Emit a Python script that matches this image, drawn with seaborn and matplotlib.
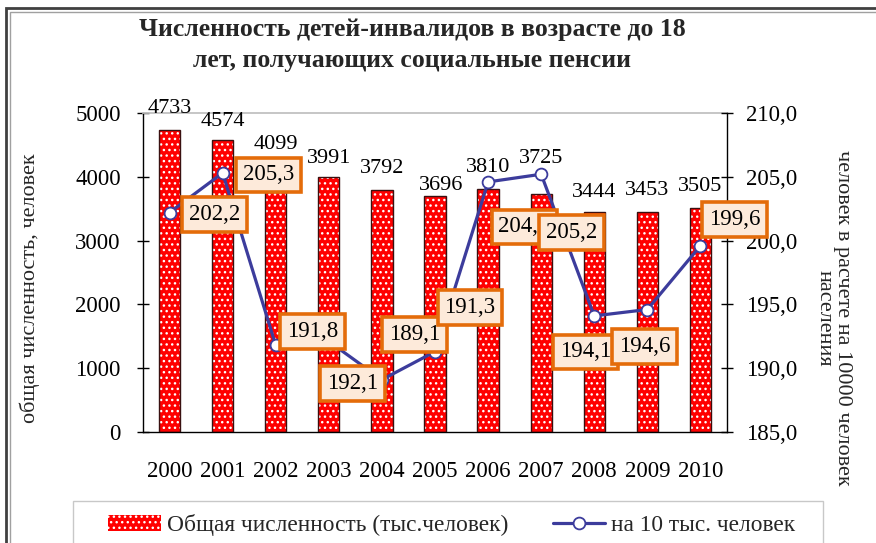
import matplotlib
matplotlib.use("Agg")
import matplotlib.pyplot as plt
import matplotlib.patches as mpatches
from matplotlib.lines import Line2D
from matplotlib.ticker import FixedLocator, FuncFormatter
import seaborn as sns
import numpy as np
import pandas as pd

# ---- data ----
years = ["2000", "2001", "2002", "2003", "2004", "2005", "2006", "2007", "2008", "2009", "2010"]
totals = [4733, 4574, 4099, 3991, 3792, 3696, 3810, 3725, 3444, 3453, 3505]
per10k = [202.2, 205.3, 191.8, 192.1, 189.1, 191.3, 204.6, 205.2, 194.1, 194.6, 199.6]

title = "Численность детей-инвалидов в возрасте до 18\nлет, получающих социальные пенсии"
bar_label = "Общая численность (тыс.человек)"
line_label = "на 10 тыс. человек"
left_ylabel = "общая численность, человек"
right_ylabel = "человек в расчете на 10000 человек\nнаселения"

# label placement offsets (pixels) -- layout only
bar_lbl_dy = [22, 19, 26, 19, 22, 11, 21, 36, 20, 21, 22]
bar_lbl_dx = [0, 0, 0, 0, 0, 6, 0, 0, 0, 0, 0]
box_dx = [45, 46, 37, 24, 33, 35, 36, 30, -9, -3, 34]
box_dy = [-2, -2, 14, -42, 45, 44, -45, -58, -36, -37, 26]

df = pd.DataFrame({"year": years, "total": totals, "rate": per10k})

sns.set_theme(style="white")
plt.rcParams["font.family"] = ["Liberation Serif", "DejaVu Serif"]
plt.rcParams["hatch.linewidth"] = 1.0

W, H = 876, 543
fig = plt.figure(figsize=(W / 100, H / 100), dpi=100)
fig.patch.set_facecolor("white")
ax = fig.add_axes([143 / W, 1 - 432 / H, 584 / W, 319 / H])

RED = "#FF0000"
BLUE = "#3C3C9C"
FS = 16.5

# bars: red with white dot pattern, then dark outline
sns.barplot(data=df, x="year", y="total", ax=ax, color=RED, saturation=1,
            width=0.4, edgecolor="white", linewidth=0, hatch="...", zorder=2)
sns.barplot(data=df, x="year", y="total", ax=ax, fill=False, width=0.4,
            edgecolor="#3a1010", linewidth=1.0, zorder=3)

ax.set_xlim(-0.5, len(years) - 0.5)
ax.set_ylim(0, 5000)
ax.yaxis.set_major_locator(FixedLocator(np.arange(0, 5001, 1000)))
ax.set_xlabel("")
ax.set_ylabel(left_ylabel, fontsize=16)
ax.yaxis.set_label_coords(-0.176, 0.451)

# bar value labels
for i, v in enumerate(df["total"]):
    ax.annotate(f"{v}", xy=(i, v), xytext=(bar_lbl_dx[i] * 0.72, bar_lbl_dy[i] * 0.72),
                textcoords="offset points", ha="center", va="center",
                fontsize=16, color="black", zorder=4)

# x ticks between categories
ax.tick_params(axis="x", which="major", length=0, pad=21, labelsize=FS, colors="black")
ax.xaxis.set_minor_locator(FixedLocator(np.arange(-0.5, len(years), 1.0)))
ax.tick_params(axis="x", which="minor", direction="inout", length=8, width=1, color="black")
ax.tick_params(axis="y", direction="inout", length=8, width=1, pad=12, labelsize=FS,
               color="black", labelcolor="black", left=True)

for s in ["left", "bottom"]:
    ax.spines[s].set_color("black")
    ax.spines[s].set_linewidth(1)
ax.spines["top"].set_color("#BFBFBF")
ax.spines["right"].set_visible(False)

# line on secondary axis
ax2 = ax.twinx()
xs = np.arange(len(years))
sns.lineplot(x=xs, y=df["rate"].to_numpy(), ax=ax2, color=BLUE, linewidth=2.3,
             marker="o", markersize=8.5, markerfacecolor="white",
             markeredgecolor=BLUE, markeredgewidth=1.3, zorder=5)
ax2.set_ylim(185, 210)
ax2.yaxis.set_major_locator(FixedLocator(np.arange(185, 210.1, 5)))
ax2.yaxis.set_major_formatter(FuncFormatter(lambda v, p: f"{v:.1f}".replace(".", ",")))
ax2.tick_params(axis="y", direction="inout", length=8, width=1, pad=10, labelsize=FS,
                color="black", labelcolor="black", right=True)
for s in ["left", "bottom", "top"]:
    ax2.spines[s].set_visible(False)
ax2.spines["right"].set_color("black")
ax2.spines["right"].set_linewidth(1)
ax2.set_ylabel(right_ylabel, fontsize=16, rotation=270, multialignment="center",
               linespacing=0.95, va="center", ha="center")
ax2.yaxis.set_label_coords(1.1815, 0.357)

# boxed rate labels
for i, v in enumerate(df["rate"]):
    ax2.annotate(f"{v:.1f}".replace(".", ","), xy=(i, v),
                 xytext=(box_dx[i] * 0.72, box_dy[i] * 0.72), textcoords="offset points",
                 ha="center", va="center", fontsize=16.5, color="black", zorder=6,
                 bbox=dict(boxstyle="square,pad=0.3", facecolor="#FDEADA",
                           edgecolor="#E46C0A", linewidth=2.6))

# title
fig.text(412 / W, 1 - 45 / H, title, ha="center", va="center", fontsize=18.5,
         fontweight="bold", linespacing=1.45)

# legend frame and legend
fig.patches.append(mpatches.Rectangle((73 / W, -0.05), (823 - 73) / W, 0.05 + (1 - 501 / H),
                                      transform=fig.transFigure, fill=False,
                                      edgecolor="#C8C8C8", linewidth=1))
h_bar = mpatches.Patch(facecolor=RED, edgecolor="white", hatch="...", linewidth=0)
h_line = Line2D([0], [0], color=BLUE, linewidth=2.3, marker="o", markersize=8.5,
                markerfacecolor="white", markeredgecolor=BLUE, markeredgewidth=1.3)
leg = fig.legend([h_bar, h_line], [bar_label, line_label], loc="center left",
                 bbox_to_anchor=(108 / W, 1 - 525 / H), ncol=2, frameon=False,
                 handlelength=2.27, handletextpad=0.25, columnspacing=1.9,
                 borderpad=0, borderaxespad=0, fontsize=16.8)

# outer double frame
fig.patches.append(mpatches.Rectangle((6 / W, -0.1), 1.5, 1.1 - 8 / H,
                                      transform=fig.transFigure, fill=False,
                                      edgecolor="#404040", linewidth=2))
fig.patches.append(mpatches.Rectangle((10 / W, -0.1), 1.5, 1.1 - 12 / H,
                                      transform=fig.transFigure, fill=False,
                                      edgecolor="#A0A0A0", linewidth=1))

fig.savefig("out.png", dpi=100)
